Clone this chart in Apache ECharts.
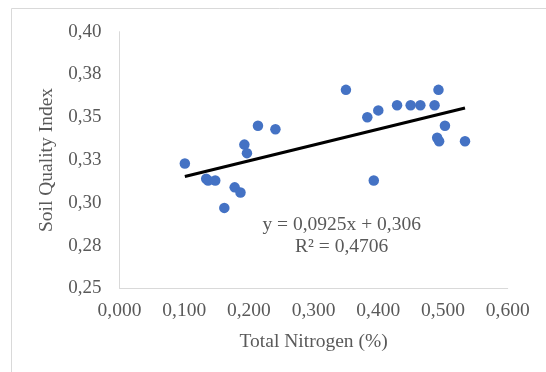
<!DOCTYPE html>
<html>
<head>
<meta charset="utf-8">
<script src="https://cdn.jsdelivr.net/npm/echarts@6/dist/echarts.min.js"></script>
<style>
  html, body { margin: 0; padding: 0; background: #fff; }
  #chart { width: 546px; height: 372px; }
</style>
</head>
<body>
<div id="chart"></div>
<script>
// data
var nitrogen = [0.101, 0.134, 0.137, 0.148, 0.162, 0.178, 0.187, 0.193, 0.197, 0.214, 0.241,
                0.350, 0.383, 0.393, 0.400, 0.429, 0.450, 0.465, 0.487, 0.493, 0.503, 0.491, 0.494, 0.534];
var sqi      = [0.323, 0.314, 0.313, 0.313, 0.297, 0.309, 0.306, 0.334, 0.329, 0.345, 0.343,
                0.366, 0.350, 0.313, 0.354, 0.357, 0.357, 0.357, 0.357, 0.366, 0.345, 0.338, 0.336, 0.336];
var xTickLabels = ['0,000', '0,100', '0,200', '0,300', '0,400', '0,500', '0,600'];
var yTickLabels = ['0,25', '0,28', '0,30', '0,33', '0,35', '0,38', '0,40'];
var slope = 0.0925, intercept = 0.306;
var eqText = 'y = 0,0925x + 0,306';
var r2Text = 'R² = 0,4706';

var points = [];
for (var i = 0; i < nitrogen.length; i++) {
  points.push([nitrogen[i], sqi[i]]);
}
var xMin = Math.min.apply(null, nitrogen), xMax = Math.max.apply(null, nitrogen);
var trend = [[xMin, slope * xMin + intercept], [xMax, slope * xMax + intercept]];

var font = '"Liberation Serif", "Times New Roman", serif';
var grey = '#595959';

var option = {
  backgroundColor: '#fff',
  animation: false,
  grid: { left: 119.5, right: 38.3, top: 31.7, bottom: 83.7 },
  xAxis: {
    type: 'value',
    min: 0, max: 0.6, interval: 0.1,
    name: 'Total Nitrogen (%)',
    nameLocation: 'middle',
    nameGap: 44,
    nameTextStyle: { color: grey, fontFamily: font, fontSize: 19.5 },
    axisLine: { lineStyle: { color: '#d9d9d9' } },
    axisTick: { show: false },
    splitLine: { show: false },
    axisLabel: {
      color: grey, fontFamily: font, fontSize: 19.5, margin: 13,
      formatter: function (v, idx) { return xTickLabels[idx]; }
    }
  },
  yAxis: {
    type: 'value',
    min: 0.25, max: 0.40, interval: 0.025,
    name: 'Soil Quality Index',
    nameLocation: 'middle',
    nameGap: 55,
    nameTextStyle: { color: grey, fontFamily: font, fontSize: 19.5 },
    axisLine: { show: true, lineStyle: { color: '#d9d9d9' } },
    axisTick: { show: false },
    splitLine: { show: false },
    axisLabel: {
      color: grey, fontFamily: font, fontSize: 19, margin: 18,
      formatter: function (v, idx) { return yTickLabels[idx]; }
    }
  },
  graphic: [
    {
      type: 'rect', silent: true,
      shape: { x: 11.5, y: 8.5, width: 600, height: 400 },
      style: { fill: 'none', stroke: '#d9d9d9', lineWidth: 1 }
    },
    {
      type: 'text', silent: true,
      x: 341.7, y: 225,
      style: { text: eqText, fill: grey, font: '19.5px ' + font, textAlign: 'center', textVerticalAlign: 'middle' }
    },
    {
      type: 'text', silent: true,
      x: 341.7, y: 246.7,
      style: { text: r2Text, fill: grey, font: '19.5px ' + font, textAlign: 'center', textVerticalAlign: 'middle' }
    }
  ],
  series: [
    {
      type: 'line',
      data: trend,
      symbol: 'none',
      lineStyle: { color: '#000', width: 3 },
      z: 2
    },
    {
      type: 'scatter',
      data: points,
      symbolSize: 10.5,
      itemStyle: { color: '#4472C4', opacity: 1 },
      z: 3
    }
  ]
};

var myChart = echarts.init(document.getElementById('chart'), null, { renderer: 'canvas' });
myChart.setOption(option);
</script>
</body>
</html>
